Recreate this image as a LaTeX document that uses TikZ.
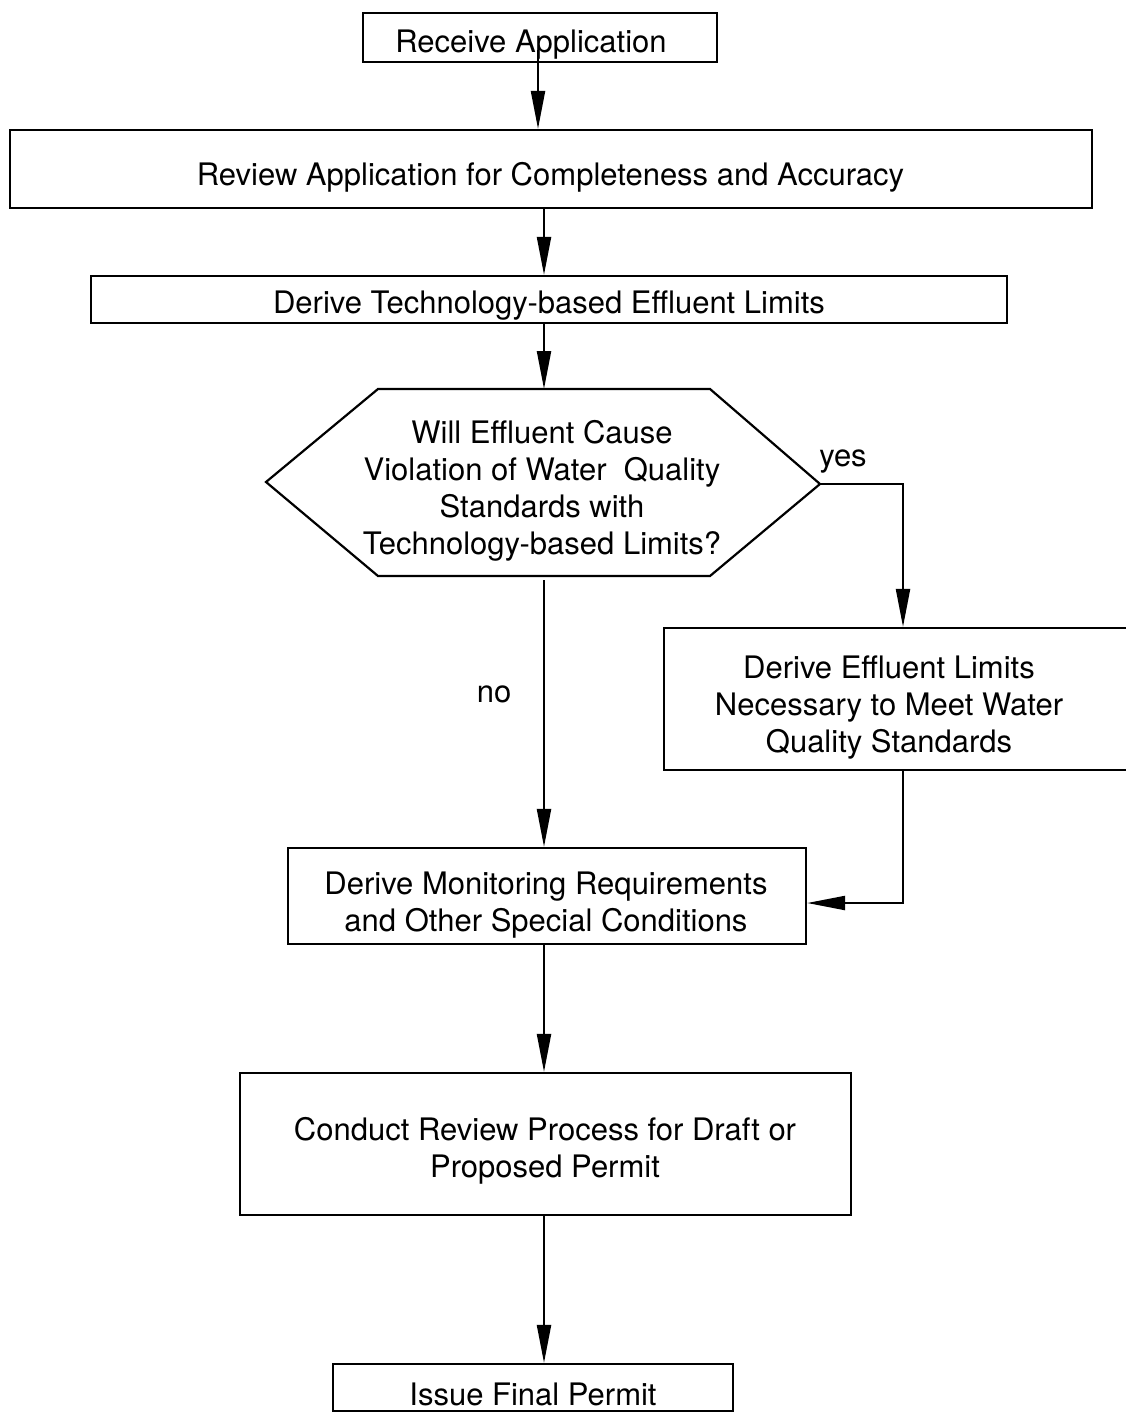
\documentclass[tikz,border=0pt]{standalone}
\usepackage{fontspec}
\setmainfont{TeX Gyre Heros}
\usetikzlibrary{arrows.meta}
\begin{document}
\begin{tikzpicture}[x=1pt,y=-1pt,
  line width=2.2pt,
  every node/.style={font=\fontsize{31}{37}\selectfont, inner sep=0pt},
  box/.style={draw, rectangle},
  txt/.style={align=center},
  arr/.style={-{Triangle[length=38pt,width=14pt]}}]
\useasboundingbox (0,0) rectangle (1125,1412);

% process boxes
\node[box, minimum width=354pt, minimum height=49pt] (recv) at (540,37.5) {};
\node[txt] (recvtext) at (531,45) {Receive Application};
\node[box, minimum width=1082pt, minimum height=78pt] (review) at (551,169) {};
\node[txt] (reviewtext) at (550.5,177) {Review Application for Completeness and Accuracy};
\node[box, minimum width=916pt, minimum height=47pt] (tech) at (549,299.5) {};
\node[txt] (techtext) at (549,306) {Derive Technology-based Effluent Limits};

% decision hexagon
\coordinate (hL) at (266,482);
\coordinate (hTL) at (378,389);
\coordinate (hTR) at (710,389);
\coordinate (hR) at (820,484);
\coordinate (hBR) at (710,576);
\coordinate (hBL) at (378,576);
\draw (hL) -- (hTL) -- (hTR) -- (hR) -- (hBR) -- (hBL) -- cycle;
\node[txt] (quest) at (542,491) {Will Effluent Cause\\Violation of Water\ \ Quality\\Standards with\\Technology-based Limits?};
\coordinate (hTop) at (544,389);
\coordinate (hBot) at (544,580);

% water-quality branch box (runs off the right edge)
\node[box, minimum width=464pt, minimum height=142pt] (wq) at (896,699) {};
\node[txt] (wqtext) at (889,708) {Derive Effluent Limits\\Necessary to Meet Water\\Quality Standards};

\node[box, minimum width=518pt, minimum height=96pt] (monit) at (547,896) {};
\node[txt] (monittext) at (546,905) {Derive Monitoring Requirements\\and Other Special Conditions};
\node[box, minimum width=611pt, minimum height=142pt] (draft) at (545.5,1144) {};
\node[txt] (drafttext) at (545,1151) {Conduct Review Process for Draft or\\Proposed Permit};
\node[box, minimum width=400pt, minimum height=47pt] (final) at (533,1387.5) {};
\node[txt] (finaltext) at (533,1394) {Issue Final Permit};

% column positions
\coordinate (colA) at (538,0);
\coordinate (col) at (544,0);
\coordinate (colR) at (903,0);
\coordinate (start) at (538,50);
\coordinate (yesTurn) at (903,484);
\coordinate (wqTurn) at (903,903);

% connectors
\draw[arr] (start) -- (review.north -| colA);
\draw[arr] (review.south -| col) -- (tech.north -| col);
\draw[arr] (tech.south -| col) -- (hTop);
\draw[arr] (hR) -- (yesTurn) -- (wq.north -| colR);
\draw[arr] (wq.south -| colR) -- (wqTurn) -- (monit.east |- wqTurn);
\draw[arr] (hBot) -- (monit.north -| col);
\draw[arr] (monit.south -| col) -- (draft.north -| col);
\draw[arr] (draft.south -| col) -- (final.north -| col);

% branch labels
\node (yes) at (843,462) {yes};
\node (no) at (494,694) {no};
\end{tikzpicture}
\end{document}
